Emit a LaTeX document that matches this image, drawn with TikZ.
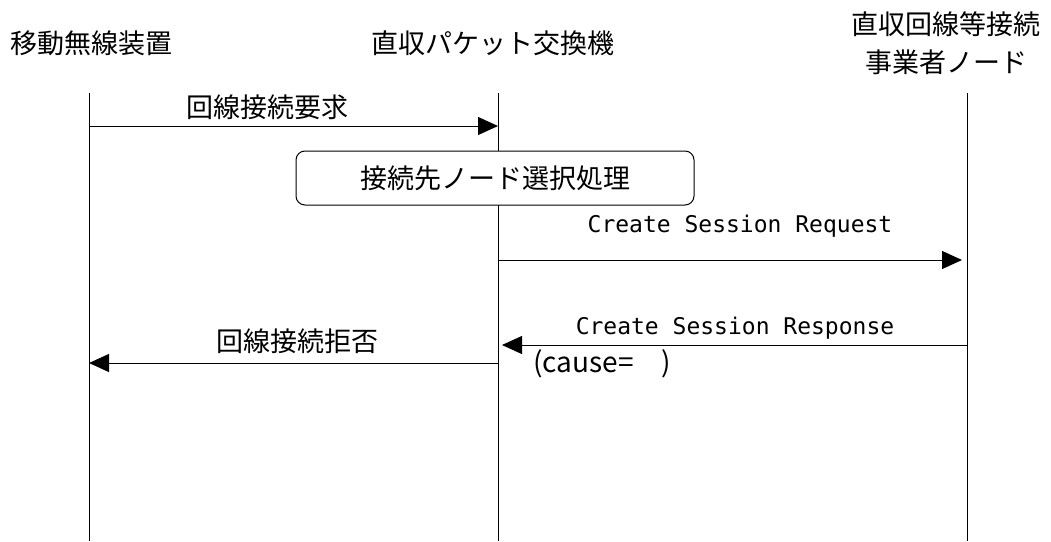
\documentclass[tikz,border=0pt]{standalone}
\usepackage{fontspec}
\setmainfont{Noto Sans CJK JP}
\newfontfamily\monof{DejaVu Sans Mono}
\usetikzlibrary{arrows.meta}
\begin{document}
\begin{tikzpicture}[x=1pt,y=-1pt,
  lifeline/.style={line width=1pt},
  msg/.style={line width=1pt,-{Triangle[length=20pt,width=18pt]}},
  jp/.style={font=\fontsize{27}{38}\selectfont, inner sep=0pt},
  mono/.style={font=\monof\fontsize{23}{26}\selectfont, inner sep=0pt},
  procbox/.style={draw, line width=1pt, rounded corners=9pt, minimum width=398pt, minimum height=54pt, fill=white, font=\fontsize{27}{30}\selectfont}]
\useasboundingbox (0,0) rectangle (1051,541);
% titles
\node[jp] (tA) at (91,43) {移動無線装置};
\node[jp] (tB) at (493,43) {直収パケット交換機};
\node[jp,align=center] (tC) at (946,43) {直収回線等接続\\事業者ノード};
% lifelines
\coordinate (la) at (89,93);  \coordinate (laE) at (89,541);
\coordinate (lb) at (498,93); \coordinate (lbE) at (498,541);
\coordinate (lc) at (967,93); \coordinate (lcE) at (967,541);
\draw[lifeline] (la) -- (laE);
\draw[lifeline] (lb) -- (lbE);
\draw[lifeline] (lc) -- (lcE);
% message 1
\coordinate (m1s) at (89,126); \coordinate (m1e) at (498,126);
\draw[msg] (m1s) -- (m1e);
\node[jp] (l1) at (267,107) {回線接続要求};
% process box
\node[procbox] (proc) at (495,178) {接続先ノード選択処理};
% message 2
\coordinate (m2s) at (498,260); \coordinate (m2e) at (962,260);
\draw[msg] (m2s) -- (m2e);
\node[mono] (l2) at (740,226) {Create Session Request};
% message 3
\coordinate (m3s) at (967,345); \coordinate (m3e) at (502,345);
\draw[msg] (m3s) -- (m3e);
\node[mono] (l3) at (735,328) {Create Session Response};
\node[jp,anchor=west,font=\fontsize{28}{32}\selectfont] (l3b) at (533,364) {(cause=\hspace{28pt})};
% message 4
\coordinate (m4s) at (498,363); \coordinate (m4e) at (89,363);
\draw[msg] (m4s) -- (m4e);
\node[jp] (l4) at (297,341) {回線接続拒否};
\end{tikzpicture}
\end{document}
